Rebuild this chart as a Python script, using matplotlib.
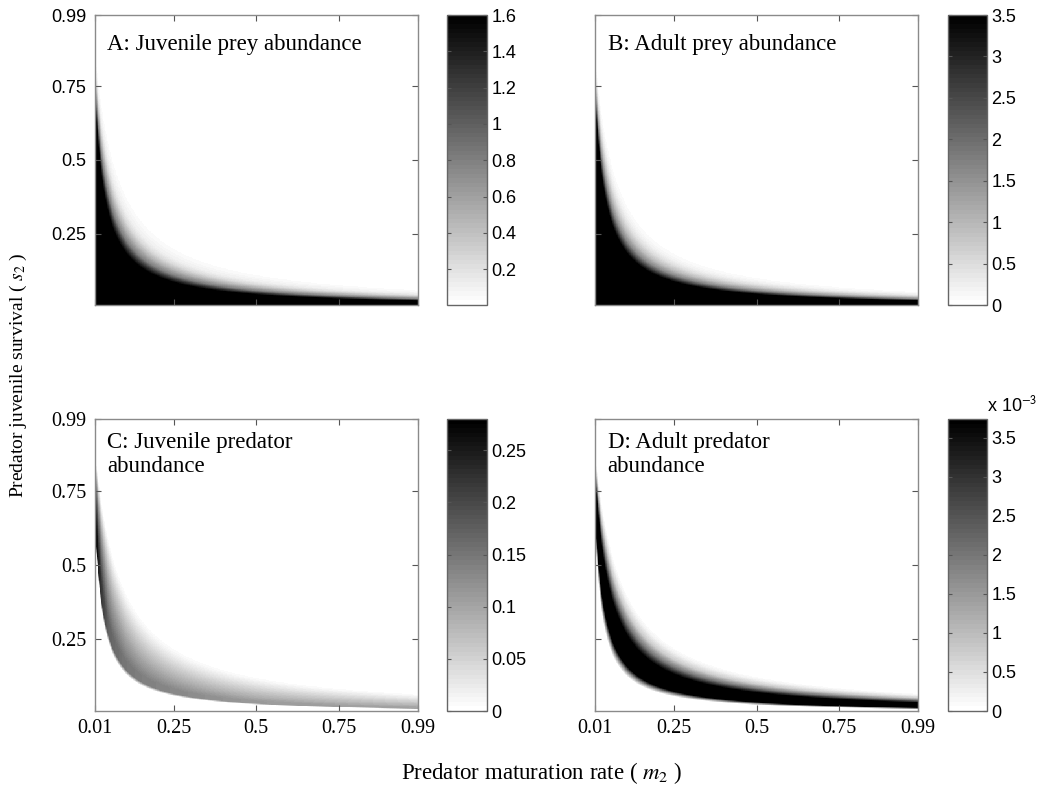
import numpy as np
import matplotlib.pyplot as plt
from matplotlib.ticker import FormatStrFormatter

plt.rcParams['mathtext.fontset'] = 'stix'

# axes: predator maturation rate (m2) and predator juvenile survival (s2)
m2_ticks = [0.01, 0.25, 0.5, 0.75, 0.99]
s2_ticks = [0.25, 0.5, 0.75, 0.99]

# profiles read across the band, indexed by the chance that a juvenile
# predator matures: p = s2*m2 / (1 - s2*(1 - m2))
juv_prey_p = [0.0, 0.0229, 0.0264, 0.0297, 0.0353, 0.0407, 0.0462, 0.0548, 0.064, 1.0]
juv_prey = [1.7, 1.6, 1.2, 0.8, 0.48, 0.24, 0.11, 0.04, 0.005, 0.005]

adult_prey_p = [0.0, 0.0235, 0.027, 0.030, 0.035, 0.040, 0.045, 0.050, 0.058, 1.0]
adult_prey = [3.6, 3.5, 2.4, 1.6, 0.9, 0.45, 0.2, 0.08, 0.0, 0.0]

juv_pred_p = [0.0, 0.0155, 0.0175, 0.022, 0.029, 0.041, 0.0515, 0.060, 0.067, 1.0]
juv_pred_shape = [0, 0, 1, 1, 0.8, 0.5, 0.25, 0.08, 0, 0]
juv_pred_peak_m2 = [0.01, 0.02, 0.05, 0.1, 0.15, 0.25, 0.5, 0.99]
juv_pred_peak = [0.30, 0.24, 0.17, 0.15, 0.14, 0.13, 0.11, 0.10]

adult_pred_p = [0.0, 0.015, 0.0175, 0.0197, 0.0368, 0.0441, 0.0524, 0.0605, 0.067, 1.0]
adult_pred = [0, 0, 1.8, 3.74, 3.74, 2.0, 0.75, 0.2, 0, 0]  # x 1e-3

# grid
m2 = np.linspace(0.01, 0.99, 500)
s2 = np.linspace(0.01, 0.99, 500)
M, S = np.meshgrid(m2, s2)
P = S * M / (1 - S * (1 - M))

A = np.interp(P, juv_prey_p, juv_prey)
B = np.interp(P, adult_prey_p, adult_prey)
C = np.interp(P, juv_pred_p, juv_pred_shape) * np.interp(M, juv_pred_peak_m2, juv_pred_peak)
D = np.interp(P, adult_pred_p, adult_pred)

W, H = 1044, 791


def box(x0, y0, x1, y1):
    return [x0 / W, 1 - y1 / H, (x1 - x0) / W, (y1 - y0) / H]


panels = [
    ("A: Juvenile prey abundance", A, 0.003, 1.6, [0.2, 0.4, 0.6, 0.8, 1, 1.2, 1.4, 1.6],
     box(94.5, 15, 418, 305), box(447, 15, 487, 305), 0, 0.935),
    ("B: Adult prey abundance", B, 0, 3.5, [0, 0.5, 1, 1.5, 2, 2.5, 3, 3.5],
     box(595, 15, 918, 305), box(948, 15, 987, 305), 0, 0.935),
    ("C: Juvenile predator\nabundance", C, 0, 0.28, [0, 0.05, 0.1, 0.15, 0.2, 0.25],
     box(94.5, 419, 418, 711), box(447, 419, 487, 711), 1, 0.955),
    ("D: Adult predator\nabundance", D, 0, 3.74, [0, 0.5, 1, 1.5, 2, 2.5, 3, 3.5],
     box(595, 419, 918, 711), box(948, 419, 987, 711), 1, 0.955),
]

fig = plt.figure(figsize=(10.44, 7.91), dpi=100)
cmap = plt.get_cmap('gray_r', 64)
serif = 'Liberation Serif'
sans = 'Liberation Sans'

for i, (title, Z, vmin, vmax, cticks, abox, cbox, row, ty) in enumerate(panels):
    ax = fig.add_axes(abox)
    im = ax.imshow(Z, extent=[0.01, 0.99, 0.01, 0.99], origin='lower', aspect='auto',
                   cmap=cmap, vmin=vmin, vmax=vmax, interpolation='nearest')
    ax.set_xlim(0.01, 0.99)
    ax.set_ylim(0.01, 0.99)
    ax.set_xticks(m2_ticks)
    ax.set_yticks(s2_ticks)
    ax.tick_params(direction='in', top=True, right=True, length=4, width=0.8,
                   color='#555555', pad=6)
    for sp in ax.spines.values():
        sp.set_color('#8a8a8a')
        sp.set_linewidth(1.0)
    if row == 1:
        ax.set_xticklabels(['0.01', '0.25', '0.5', '0.75', '0.99'], family=serif, fontsize=14.5)
    else:
        ax.set_xticklabels([])
    if i % 2 == 0:
        ax.set_yticklabels(['0.25', '0.5', '0.75', '0.99'],
                           family=serif if row == 1 else sans,
                           fontsize=14.5 if row == 1 else 13)
    else:
        ax.set_yticklabels([])
    ax.text(0.039, ty, title, transform=ax.transAxes, va='top', ha='left',
            family=serif, fontsize=16.5, linespacing=1.15)

    cax = fig.add_axes(cbox)
    cb = fig.colorbar(im, cax=cax)
    cb.set_ticks(cticks)
    cb.ax.yaxis.set_major_formatter(FormatStrFormatter('%g'))
    cb.ax.tick_params(direction='in', left=True, right=True, length=3, width=0.8,
                      color='#555555', labelsize=13, pad=3)
    for lab in cb.ax.get_yticklabels():
        lab.set_family(sans)
    cb.outline.set_edgecolor('#666666')
    cb.outline.set_linewidth(1.0)

fig.text(987 / W, 1 - 405 / H, r'x 10$^{\mathsf{-3}}$', family=sans, fontsize=13,
         ha='left', va='center')

fig.text(18 / W, 1 - 375 / H, r'Predator juvenile survival ( $s_2$ )', rotation=90,
         family=serif, fontsize=14, ha='center', va='center')
fig.text(542 / W, 1 - 773 / H, r'Predator maturation rate ( $m_2$ )',
         family=serif, fontsize=16.5, ha='center', va='center')

fig.savefig('out.png', dpi=100)
